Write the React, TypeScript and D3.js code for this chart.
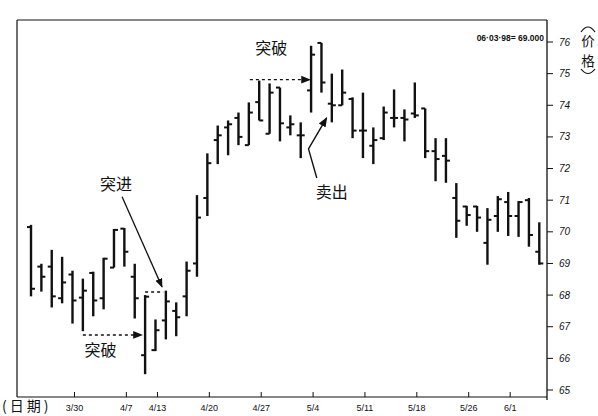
import React from "react";
import * as d3 from "d3";

// OHLC bars (daily)
const highs = [70.22, 68.99, 69.43, 69.21, 68.77, 68.52, 68.74, 69.18, 70.09, 70.12, 68.99, 68.0, 67.23, 68.14, 67.77, 69.06, 71.16, 72.48, 73.36, 73.52, 73.77, 74.09, 74.78, 74.69, 74.56, 73.68, 73.46, 75.88, 75.97, 75.0, 75.13, 74.25, 74.4, 73.3, 73.96, 74.5, 73.87, 74.72, 73.9, 72.96, 72.96, 71.54, 70.82, 70.82, 70.75, 71.13, 71.26, 70.97, 71.07, 70.3];
const lows = [67.96, 68.11, 67.61, 67.74, 67.1, 66.86, 67.33, 67.55, 68.87, 68.9, 67.26, 65.5, 66.23, 66.6, 66.7, 67.33, 68.58, 70.5, 72.14, 72.42, 72.74, 72.74, 73.52, 73.1, 72.86, 73.05, 72.33, 73.77, 74.4, 73.46, 74.0, 72.96, 72.33, 72.14, 72.9, 73.3, 72.86, 73.6, 72.33, 71.6, 71.55, 69.81, 70.19, 70.0, 68.96, 70.0, 69.87, 69.84, 69.53, 68.96];
const opens = [70.15, 68.9, 68.9, 67.9, 68.65, 67.92, 68.7, 67.9, 68.87, 70.1, 68.58, 66.1, 66.26, 67.2, 67.5, 67.96, 69.0, 71.07, 72.9, 73.3, 73.6, 72.74, 74.1, 73.1, 74.56, 73.3, 73.05, 74.47, 75.97, 74.05, 74.0, 74.2, 73.2, 72.72, 72.96, 73.6, 73.6, 73.74, 73.9, 72.55, 72.4, 71.07, 70.8, 70.8, 69.65, 70.5, 70.94, 70.5, 71.0, 69.37];
const closes = [68.2, 68.58, 67.96, 68.4, 67.83, 68.14, 67.83, 69.15, 70.06, 69.37, 67.9, 67.95, 66.89, 67.8, 67.3, 68.77, 70.45, 72.17, 73.05, 73.4, 73.0, 73.77, 73.52, 74.4, 73.43, 73.4, 73.05, 75.6, 74.72, 74.0, 74.4, 73.2, 73.2, 72.9, 73.77, 73.6, 73.55, 73.68, 72.55, 72.3, 72.25, 70.35, 70.53, 70.45, 70.38, 71.03, 70.5, 70.94, 69.9, 69.0];

// Date axis: labels and the bar index they mark
const dateLabels = ["3/30", "4/7", "4/13", "4/20", "4/27", "5/4", "5/11", "5/18", "5/26", "6/1"];
const dateIndex = [4, 9, 12, 17, 22, 27, 32, 37, 42, 46];

// Price axis ticks
const priceTicks = [65, 66, 67, 68, 69, 70, 71, 72, 73, 74, 75, 76];

const lastLabel = "06·03·98= 69.000";

export default function App() {
  const W = 598, H = 416;
  const frameL = 17, frameR = 547, frameT = 20, frameB = 397;
  const x = d3.scaleLinear().domain([0, highs.length - 1]).range([31, 539.3]);
  const y = d3.scaleLinear().domain([65, 76]).range([390, 42]);
  const ink = "#111";
  const cjk = "'Noto Sans CJK SC', sans-serif";

  return (
    <svg width={W} height={H} style={{ position: "absolute", left: 0, top: 0, background: "#fff" }}
      fontFamily="'Liberation Sans', Arial, sans-serif">
      <defs>
        <marker id="ah" viewBox="0 0 10 10" refX="9" refY="5" markerWidth="7" markerHeight="7" orient="auto-start-reverse">
          <path d="M0,1 L10,5 L0,9 Z" fill={ink} />
        </marker>
      </defs>
      <rect width={W} height={H} fill="#fff" />
      {/* frame */}
      <line x1={frameL} y1={frameT} x2={frameR} y2={frameT} stroke={ink} strokeWidth={1} />
      <line x1={frameL} y1={frameT} x2={frameL} y2={frameB} stroke={ink} strokeWidth={1.2} />
      <line x1={frameL} y1={frameB} x2={frameR} y2={frameB} stroke={ink} strokeWidth={1.2} />
      <line x1={frameR} y1={frameT} x2={frameR} y2={frameB + 3} stroke={ink} strokeWidth={1.3} />

      {/* price axis */}
      {priceTicks.map((p) => (
        <g key={p}>
          <line x1={frameR} x2={frameR + 6} y1={y(p)} y2={y(p)} stroke={ink} strokeWidth={1} />
          <text x={frameR + 12} y={y(p)} dy="0.35em" fontSize={10} fontStyle="italic" fill={ink}>{p}</text>
        </g>
      ))}
      {/* price axis title, vertical, with bracket arcs */}
      <path d="M581,32 Q588,22 595,32" fill="none" stroke={ink} strokeWidth={1.2} />
      <text x={588} y={45.5} textAnchor="middle" fontSize={13.5} fontFamily={cjk} fill={ink}>价</text>
      <text x={588} y={65.5} textAnchor="middle" fontSize={13.5} fontFamily={cjk} fill={ink}>格</text>
      <path d="M581,69 Q588,78 595,69" fill="none" stroke={ink} strokeWidth={1.2} />

      {/* date axis */}
      {dateIndex.map((d, i) => (
        <g key={d}>
          <line x1={x(d) + 2} x2={x(d) + 2} y1={frameB} y2={frameB - 5} stroke={ink} strokeWidth={1} />
          <text x={x(d) + 2} y={411} textAnchor="middle" fontSize={9} fill={ink}>{dateLabels[i]}</text>
        </g>
      ))}
      <text x={2} y={411} fontSize={14} letterSpacing={3} fontFamily={cjk} fill={ink}>(日期)</text>

      {/* last value label */}
      <text x={544} y={41} textAnchor="end" fontSize={8.5} fontWeight="bold" fill={ink}>{lastLabel}</text>

      {/* OHLC bars */}
      {highs.map((h, i) => (
        <g key={i} stroke={ink}>
          <line x1={x(i)} x2={x(i)} y1={y(h)} y2={y(lows[i])} strokeWidth={2.4} />
          <line x1={x(i) - 4} x2={x(i)} y1={y(opens[i])} y2={y(opens[i])} strokeWidth={2} />
          <line x1={x(i)} x2={x(i) + 4} y1={y(closes[i])} y2={y(closes[i])} strokeWidth={2} />
        </g>
      ))}

      {/* annotations */}
      <line x1={x(5)} y1={y(66.74)} x2={x(10.7)} y2={y(66.74)} stroke={ink} strokeWidth={1.4}
        strokeDasharray="3,3" markerEnd="url(#ah)" />
      <text x={x(6.7)} y={y(66.25)} dy="0.35em" textAnchor="middle" fontSize={16} fontFamily={cjk} fill={ink}>突破</text>

      <line x1={x(11)} y1={y(68.1)} x2={x(12.75)} y2={y(68.1)} stroke={ink} strokeWidth={1.4} strokeDasharray="3,3" />
      <line x1={x(8.78)} y1={y(71.11)} x2={x(12.63)} y2={y(68.26)} stroke={ink} strokeWidth={1.3} markerEnd="url(#ah)" />
      <text x={x(8.2)} y={y(71.49)} dy="0.35em" textAnchor="middle" fontSize={16} fontFamily={cjk} fill={ink}>突进</text>

      <line x1={x(21.1)} y1={y(74.81)} x2={x(26.9)} y2={y(74.81)} stroke={ink} strokeWidth={1.4}
        strokeDasharray="3,3" markerEnd="url(#ah)" />
      <text x={x(23.15)} y={y(75.8)} dy="0.35em" textAnchor="middle" fontSize={16} fontFamily={cjk} fill={ink}>突破</text>

      <polyline points={`${x(27.55)},${y(71.7)} ${x(26.75)},${y(72.62)} ${x(28.5)},${y(73.6)}`} fill="none"
        stroke={ink} strokeWidth={1.4} markerEnd="url(#ah)" />
      <text x={x(29.0)} y={y(71.26)} dy="0.35em" textAnchor="middle" fontSize={16} fontFamily={cjk} fill={ink}>卖出</text>
    </svg>
  );
}
